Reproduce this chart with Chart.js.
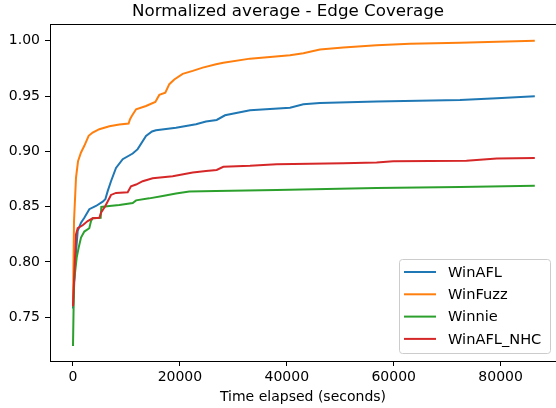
<!DOCTYPE html>
<html>
<head>
<meta charset="utf-8">
<script src="https://cdn.jsdelivr.net/npm/chart.js@4.4.0/dist/chart.umd.min.js"></script>
<style>
  html, body { margin: 0; padding: 0; background: #fff; overflow: hidden; }
  #wrap { width: 556px; height: 408px; }
</style>
</head>
<body>
<div id="wrap"><canvas id="lineChart" width="556" height="408"></canvas></div>
<script>
// values
var chartTitle = "Normalized average - Edge Coverage";
var seriesNames = ["WinAFL", "WinFuzz", "Winnie", "WinAFL_NHC"];
var seriesColors = ["#1f77b4", "#ff7f0e", "#2ca02c", "#d62728"];

var winaflX = [0, 430, 880, 1500, 2120, 3050, 4300, 5560, 6050, 6490, 7110, 8045, 9300, 11170, 12100, 13660, 14780, 15530, 19270, 23010, 24880, 26880, 28440, 33120, 40600, 43100, 46200, 56800, 72400, 79300, 86400];
var winaflY = [0.758, 0.801, 0.828, 0.8355, 0.840, 0.8477, 0.8506, 0.8545, 0.8567, 0.864, 0.873, 0.885, 0.8929, 0.898, 0.902, 0.914, 0.918, 0.919, 0.9214, 0.9245, 0.927, 0.9284, 0.9326, 0.9372, 0.9395, 0.9426, 0.9438, 0.945, 0.9465, 0.948, 0.9498];

var winfuzzX = [0, 190, 560, 940, 1500, 2120, 2930, 3680, 4930, 6800, 8670, 10400, 10670, 11000, 11800, 13660, 15400, 16150, 17270, 18020, 18950, 20520, 22400, 24270, 26760, 28120, 33120, 40600, 43100, 46200, 50570, 56800, 63050, 72400, 86400];
var winfuzzY = [0.760, 0.837, 0.876, 0.891, 0.899, 0.905, 0.914, 0.917, 0.920, 0.9227, 0.9242, 0.9252, 0.929, 0.932, 0.938, 0.941, 0.9447, 0.951, 0.953, 0.9607, 0.965, 0.970, 0.9727, 0.9757, 0.9787, 0.980, 0.9838, 0.9869, 0.9887, 0.992, 0.9938, 0.9959, 0.9972, 0.9982, 1.000];

var winnieX = [0, 190, 690, 1060, 1500, 2120, 3050, 3370, 3680, 5180, 5300, 6800, 8670, 11170, 11800, 14270, 16780, 19270, 21760, 26760, 38100, 56800, 72400, 86400];
var winnieY = [0.724, 0.782, 0.804, 0.813, 0.822, 0.8275, 0.8305, 0.837, 0.8395, 0.840, 0.8497, 0.8506, 0.8515, 0.8533, 0.8557, 0.8575, 0.8597, 0.8618, 0.8636, 0.8642, 0.8651, 0.8669, 0.8678, 0.869];

var nhcX = [0, 560, 880, 1810, 2750, 3680, 4930, 5240, 6050, 7110, 8045, 10230, 10850, 11800, 13040, 14900, 18650, 19890, 22400, 24880, 26880, 28120, 33120, 38100, 50570, 56800, 59900, 73600, 79300, 86400];
var nhcY = [0.760, 0.825, 0.8305, 0.8332, 0.837, 0.8395, 0.840, 0.8446, 0.8506, 0.8606, 0.8624, 0.863, 0.8684, 0.870, 0.873, 0.8757, 0.8775, 0.8787, 0.8808, 0.8823, 0.8832, 0.886, 0.8869, 0.8884, 0.8892, 0.890, 0.891, 0.8914, 0.8935, 0.894];

var xTicks = [0, 20000, 40000, 60000, 80000];
var yTicks = [0.75, 0.80, 0.85, 0.90, 0.95, 1.00];

function toPoints(xs, ys) {
  return xs.map(function(x, i) { return {x: x, y: ys[i]}; });
}

var allX = [winaflX, winfuzzX, winnieX, nhcX];
var allY = [winaflY, winfuzzY, winnieY, nhcY];

var datasets = seriesNames.map(function(name, i) {
  return {
    label: name,
    data: toPoints(allX[i], allY[i]),
    borderColor: seriesColors[i],
    backgroundColor: seriesColors[i],
    borderWidth: 2,
    pointRadius: 0,
    tension: 0,
    fill: false,
    order: seriesNames.length - i
  };
});

// title, top spine and legend box drawn the matplotlib way
var mplExtras = {
  id: 'mplExtras',
  afterDraw: function(chart) {
    var ctx = chart.ctx;
    var area = chart.chartArea;
    ctx.save();

    ctx.fillStyle = '#000';
    ctx.font = '16.7px "DejaVu Sans"';
    ctx.textAlign = 'center';
    ctx.textBaseline = 'middle';
    ctx.fillText(chartTitle, 288, 12);

    ctx.strokeStyle = '#000';
    ctx.lineWidth = 1;
    ctx.beginPath();
    ctx.moveTo(area.left, area.top + 0.5);
    ctx.lineTo(area.right, area.top + 0.5);
    ctx.stroke();

    var bx = 399.5, by = 259.5, bw = 151, bh = 94, r = 3;
    ctx.fillStyle = 'rgba(255,255,255,0.8)';
    ctx.strokeStyle = '#cccccc';
    ctx.beginPath();
    ctx.moveTo(bx + r, by);
    ctx.lineTo(bx + bw - r, by);
    ctx.arcTo(bx + bw, by, bx + bw, by + r, r);
    ctx.lineTo(bx + bw, by + bh - r);
    ctx.arcTo(bx + bw, by + bh, bx + bw - r, by + bh, r);
    ctx.lineTo(bx + r, by + bh);
    ctx.arcTo(bx, by + bh, bx, by + bh - r, r);
    ctx.lineTo(bx, by + r);
    ctx.arcTo(bx, by, bx + r, by, r);
    ctx.closePath();
    ctx.fill();
    ctx.stroke();

    ctx.font = '14.6px "DejaVu Sans"';
    ctx.textBaseline = 'middle';
    ctx.textAlign = 'left';
    chart.data.datasets.forEach(function(ds, i) {
      var y = 272 + i * 22.3;
      ctx.strokeStyle = ds.borderColor;
      ctx.lineWidth = 2;
      ctx.beginPath();
      ctx.moveTo(404, y);
      ctx.lineTo(436, y);
      ctx.stroke();
      ctx.fillStyle = '#000';
      ctx.fillText(ds.label, 448, y + 1);
    });
    ctx.restore();
  }
};

Chart.defaults.font.family = '"DejaVu Sans", sans-serif';
Chart.defaults.color = '#000';

var ctxL = document.getElementById('lineChart').getContext('2d');
var myLineChart = new Chart(ctxL, {
  type: 'line',
  data: { datasets: datasets },
  options: {
    responsive: false,
    animation: false,
    layout: { padding: { left: 0, right: 0, top: 24, bottom: 0 } },
    plugins: {
      legend: { display: false },
      tooltip: { enabled: false },
      title: { display: false }
    },
    scales: {
      x: {
        type: 'linear',
        min: -4303,
        max: 90365,
        afterFit: function(scale) { scale.height = 47; },
        afterBuildTicks: function(scale) {
          scale.ticks = xTicks.map(function(v) { return {value: v}; });
        },
        ticks: {
          font: { size: 14 },
          color: '#000',
          padding: 3,
          maxRotation: 0,
          callback: function(v) { return String(v); }
        },
        grid: { drawOnChartArea: false, drawTicks: true, tickLength: 5, tickColor: '#000', tickWidth: 1 },
        border: { display: true, color: '#000', width: 1 },
        title: {
          display: true,
          text: 'Time elapsed (seconds)',
          font: { size: 14 },
          color: '#000',
          padding: { top: 0, bottom: 2 }
        }
      },
      y: {
        type: 'linear',
        min: 0.7105,
        max: 1.0151,
        afterFit: function(scale) { scale.width = 50; },
        afterBuildTicks: function(scale) {
          scale.ticks = yTicks.map(function(v) { return {value: v}; });
        },
        ticks: {
          font: { size: 14 },
          color: '#000',
          padding: 5,
          callback: function(v) { return v.toFixed(2); }
        },
        grid: { drawOnChartArea: false, drawTicks: true, tickLength: 5, tickColor: '#000', tickWidth: 1 },
        border: { display: true, color: '#000', width: 1 }
      }
    }
  },
  plugins: [mplExtras]
});
</script>
</body>
</html>
